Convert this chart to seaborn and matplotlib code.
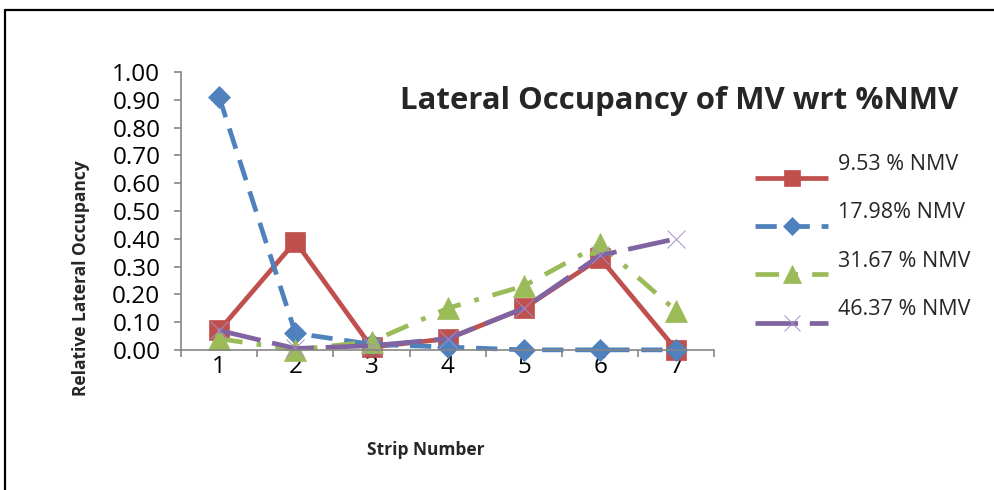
import matplotlib
matplotlib.use("Agg")
import matplotlib.pyplot as plt
from matplotlib.lines import Line2D
import seaborn as sns
import pandas as pd

# Relative lateral occupancy per strip for each %NMV level
strips = [1, 2, 3, 4, 5, 6, 7]
nmv_953 = [0.07, 0.39, 0.01, 0.04, 0.15, 0.33, 0.00]
nmv_1798 = [0.91, 0.06, 0.02, 0.01, 0.00, 0.00, 0.00]
nmv_3167 = [0.04, 0.00, 0.03, 0.15, 0.23, 0.38, 0.14]
nmv_4637 = [0.07, 0.005, 0.015, 0.04, 0.15, 0.34, 0.40]
series_labels = ["9.53 % NMV", "17.98% NMV", "31.67 % NMV", "46.37 % NMV"]
y_ticks = [0.0, 0.1, 0.2, 0.3, 0.4, 0.5, 0.6, 0.7, 0.8, 0.9, 1.0]

sns.set_theme(style="white")
plt.rcParams["font.family"] = ["Open Sans", "DejaVu Sans"]

fig = plt.figure(figsize=(9.95, 4.9), dpi=100)
ax = fig.add_axes([0.182, 0.286, 0.536, 0.567])

styles = [
    dict(color="#C0504D", marker="s", ms=14, dashes=None),
    dict(color="#4F81BD", marker="D", ms=11, dashes=(4.5, 2.5)),
    dict(color="#9BBB59", marker="^", ms=16, dashes=(5, 3, 1, 3)),
    dict(color="#8064A2", marker="x", ms=13, dashes=(9, 2.5)),
]
all_values = [nmv_953, nmv_1798, nmv_3167, nmv_4637]

handles = []
for vals, lab, st in zip(all_values, series_labels, styles):
    df = pd.DataFrame({"strip": strips, "occ": vals})
    n_before = len(ax.lines)
    is_cross = st["marker"] == "x"
    sns.lineplot(data=df, x="strip", y="occ", ax=ax, color=st["color"],
                 marker=st["marker"], markersize=st["ms"], linewidth=3.4,
                 markeredgecolor="#A48FC4" if is_cross else st["color"],
                 markeredgewidth=0.7 if is_cross else 0.5,
                 legend=False, clip_on=False)
    line = ax.lines[n_before]
    if st["dashes"] is not None:
        line.set_dashes(st["dashes"])
    line.set_dash_capstyle("butt")
    line.set_solid_capstyle("butt")
    handles.append(line)

ax.set_xlim(0.5, 7.5)
ax.set_ylim(0, 1.0)
ax.set_yticks(y_ticks)
ax.set_yticklabels([f"{v:.2f}" for v in y_ticks])
ax.set_xticks([0.5 + i for i in range(8)])
ax.set_xticklabels([""] * 8)
ax.set_xticks(strips, minor=True)
ax.set_xticklabels([str(s) for s in strips], minor=True)

axis_gray = "#868686"
for side in ["top", "right"]:
    ax.spines[side].set_visible(False)
for side in ["left", "bottom"]:
    ax.spines[side].set_color(axis_gray)
    ax.spines[side].set_linewidth(1.2)

ax.tick_params(axis="both", which="major", direction="out", length=5,
               width=1.2, color=axis_gray, labelsize=17.5, labelcolor="black",
               left=True, bottom=True)
ax.tick_params(axis="x", which="minor", length=0, labelsize=17.5,
               labelcolor="black", pad=4)
ax.tick_params(axis="y", which="major", pad=10)

ax.set_xlabel("Strip Number", fontsize=12.5, fontweight="bold")
ax.xaxis.set_label_coords(0.458, -0.36)
ax.xaxis.label.set_va("center")
ax.set_ylabel("Relative Lateral Occupancy", fontsize=12.5, fontweight="bold")
ax.yaxis.set_label_coords(-0.1876, 0.259)
ax.yaxis.label.set_va("center")

fig.text(0.683, 0.794, "Lateral Occupancy of MV wrt %NMV", ha="center",
         va="center", fontsize=22.4, fontweight="bold")

leg = fig.legend(handles, series_labels, loc="upper left",
                 bbox_to_anchor=(0.759, 0.655), frameon=False, fontsize=15.5,
                 handlelength=3.4, handletextpad=0.45, labelspacing=1.27,
                 markerscale=0.85, borderpad=0, borderaxespad=0)
for t in leg.get_texts():
    t.set_y(15)

# outer frame lines along the top and left edges
fig.add_artist(Line2D([0.005, 1.0], [0.979, 0.979], color="black", lw=1.6,
                      transform=fig.transFigure))
fig.add_artist(Line2D([0.005, 0.005], [0.0, 0.979], color="black", lw=1.6,
                      transform=fig.transFigure))

fig.savefig("out.png", dpi=100)
